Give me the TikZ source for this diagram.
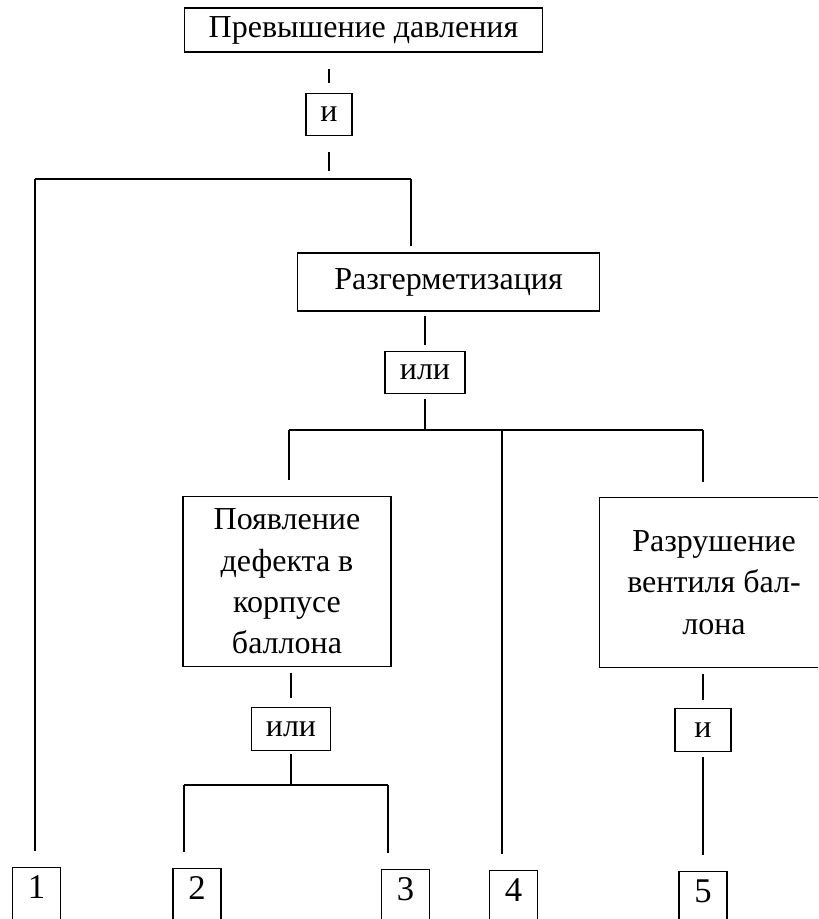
\documentclass[tikz,border=0pt]{standalone}
\usepackage{fontspec}
\setmainfont{Liberation Serif}
\usetikzlibrary{positioning}
\tikzset{
  event/.style={draw, line width=0.9pt, align=center, inner sep=0pt,
    font=\fontsize{24}{31}\selectfont},
  gate/.style={draw, line width=0.9pt, inner sep=0pt, minimum height=32pt,
    font=\fontsize{24}{28}\selectfont},
  leaf/.style={draw, line width=0.9pt, anchor=north, inner sep=0pt,
    minimum width=36pt, text height=23pt, text depth=40pt,
    font=\fontsize{26}{28}\selectfont},
  link/.style={line width=1.7pt}
}
\begin{document}
\begin{tikzpicture}[x=0.75pt,y=-0.75pt]
    \useasboundingbox (0,0) rectangle (818,919);
    \clip (0,0) rectangle (818,919);

    \node[event, minimum width=269pt, minimum height=33pt] (top) at (363.5,30) {Превышение давления};
    \node[gate, minimum width=34.5pt] (and1) at (329,114.5) {и};
    \node[event, minimum width=227pt, minimum height=43.5pt] (seal) at (448.5,282) {Разгерметизация};
    \node[gate, minimum width=60pt] (or1) at (425,372.5) {или};
    \node[event, minimum width=156pt, minimum height=128pt] (defect) at (287,581.5) {Появление\\дефекта в\\корпусе\\баллона};
    \node[event, minimum width=172pt, minimum height=128pt] (valve) at (714,582.5) {Разрушение\\вентиля бал-\\лона};
    \node[gate, minimum width=59pt] (or2) at (291,729) {или};
    \node[gate, minimum width=42pt] (and2) at (703,730) {и};

    \node[leaf] (n1) at (36.5,867) {1};
    \node[leaf] (n2) at (197,868) {2};
    \node[leaf] (n3) at (405.5,869) {3};
    \node[leaf] (n4) at (513.5,870) {4};
    \node[leaf] (n5) at (703,871) {5};

    \coordinate (b1l) at (35,179);  \coordinate (b1r) at (411,179);
    \coordinate (b2l) at (289,430); \coordinate (b2m) at (502,430); \coordinate (b2r) at (703,430);
    \coordinate (b3l) at (184,785); \coordinate (b3r) at (388,785);

    % top gate
    \draw[link, shorten <=12pt, shorten >=7.5pt] (and1.north |- top.south) -- (and1.north);
    \draw[link, shorten <=12pt, shorten >=6pt] (and1.south) -- (and1.south |- b1l);
    \draw[link] (b1l) -- (b1r);
    \draw[link, shorten >=12pt] (b1l) -- (b1l |- n1.north);
    \draw[link, shorten >=4.5pt] (b1r) -- (b1r |- seal.north);

    % second gate
    \draw[link, shorten <=3.5pt, shorten >=4.5pt] (or1.north |- seal.south) -- (or1.north);
    \draw[link, shorten <=3.5pt] (or1.south) -- (or1.south |- b2l);
    \draw[link] (b2l) -- (b2r);
    \draw[link, shorten >=12pt] (b2l) -- (b2l |- defect.north);
    \draw[link, shorten >=12pt] (b2m) -- (b2m |- n4.north);
    \draw[link, shorten >=11pt] (b2r) -- (b2r |- valve.north);

    % lower gates
    \draw[link, shorten <=4.5pt, shorten >=6.5pt] (or2.north |- defect.south) -- (or2.north);
    \draw[link, shorten <=2.5pt] (or2.south) -- (or2.south |- b3l);
    \draw[link] (b3l) -- (b3r);
    \draw[link, shorten >=12pt] (b3l) -- (b3l |- n2.north);
    \draw[link, shorten >=12pt] (b3r) -- (b3r |- n3.north);
    \draw[link, shorten <=4.5pt, shorten >=6pt] (and2.north |- valve.south) -- (and2.north);
    \draw[link, shorten <=4pt, shorten >=12pt] (and2.south) -- (n5.north);
\end{tikzpicture}
\end{document}
